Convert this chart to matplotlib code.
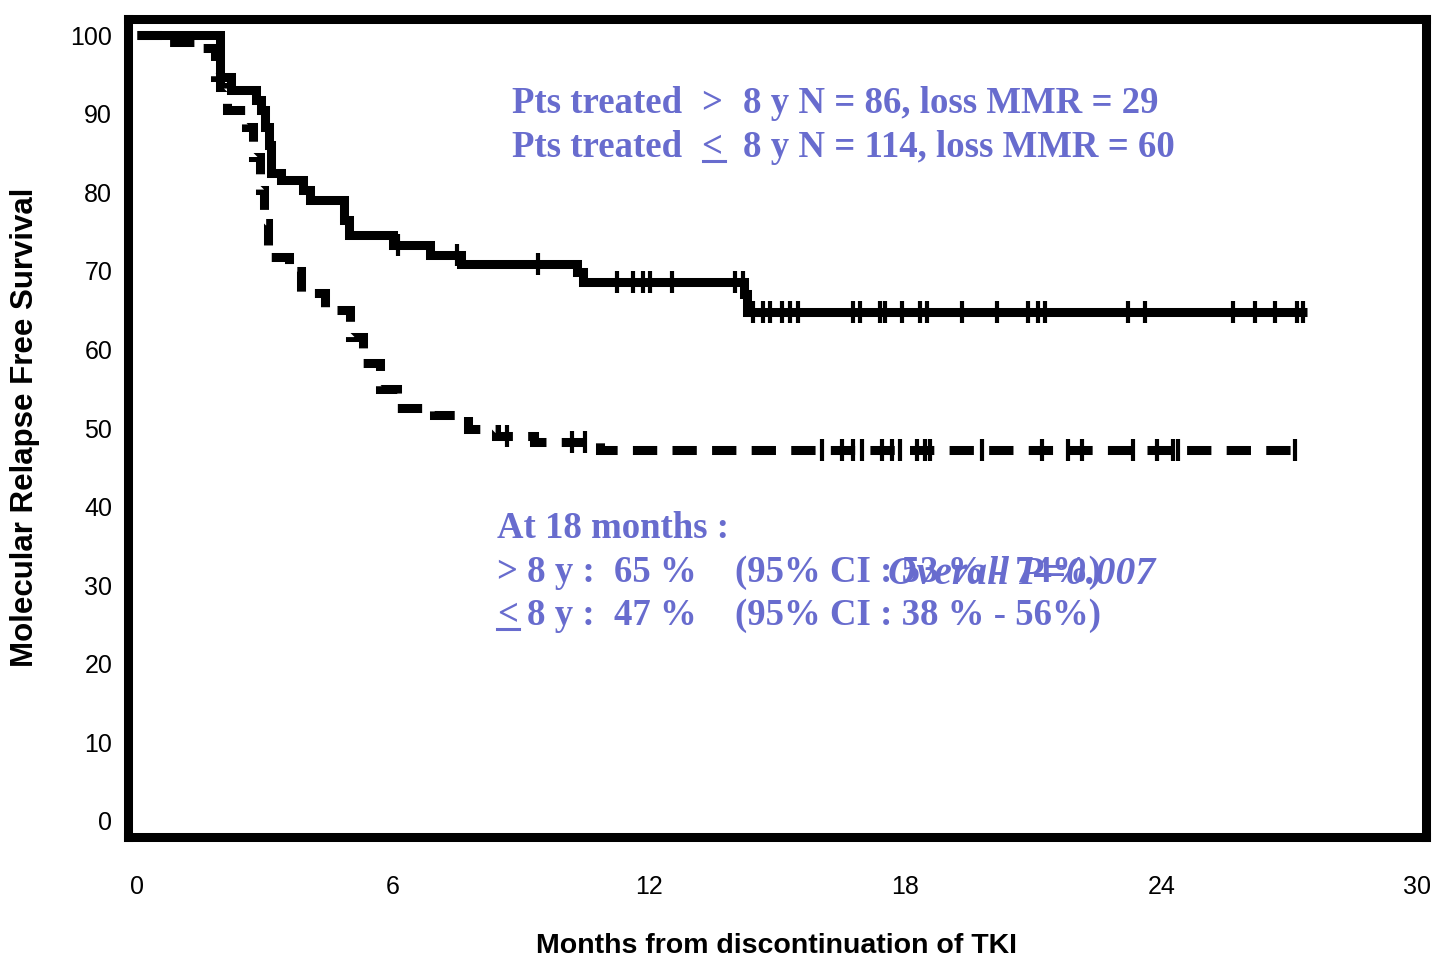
import matplotlib
matplotlib.use("Agg")
import matplotlib.pyplot as plt
from matplotlib.lines import Line2D

plt.rcParams['lines.scale_dashes'] = False

W, H = 1433, 961

# ---------------- data ----------------
# Pts treated > 8 y (solid): KM step times (months) and survival (%)
gt8_time = [0, 1.94, 2.20, 2.78, 2.90, 3.00, 3.10, 3.15, 3.38, 3.90, 4.05, 4.85, 4.97,
            6.00, 6.87, 7.60, 10.32, 10.45, 14.22, 14.30, 27.41]
gt8_surv = [100, 94.7, 93.0, 91.7, 90.5, 88.3, 86.0, 82.4, 81.6, 80.3, 79.0, 76.5, 74.6,
            73.3, 72.0, 70.9, 69.8, 68.6, 67.0, 64.8, 64.8]
gt8_censor = [6.12, 7.50, 9.40, 11.25, 11.62, 11.86, 12.02, 12.54, 14.01, 14.20,
              14.43, 14.67, 14.83, 15.11, 15.30, 15.49, 16.78, 16.94, 17.41, 17.53,
              17.92, 18.35, 18.51, 19.33, 20.15, 20.88, 21.11, 21.27, 23.22, 23.62,
              25.68, 26.19, 26.66, 27.17, 27.31]

# Pts treated <= 8 y (dashed)
le8_time = [0, 0.75, 1.45, 1.83, 1.95, 2.10, 2.55, 2.72, 2.88, 2.97, 3.08, 3.55, 3.85,
            4.40, 5.00, 5.30, 5.70, 6.10, 6.95, 7.75, 8.40, 9.30, 10.85, 27.13]
le8_surv = [100, 99.1, 98.3, 94.7, 93.4, 90.5, 88.3, 84.5, 80.3, 76.1, 71.8, 70.0, 67.2,
            65.0, 61.6, 58.3, 54.9, 52.5, 51.6, 49.9, 49.0, 48.2, 47.2, 47.2]
le8_censor = [8.67, 10.19, 10.50, 16.05, 16.52, 16.78, 16.99, 17.46, 17.69, 17.88,
              18.28, 18.46, 18.58, 19.80, 21.20, 21.81, 22.14, 23.34, 23.90, 24.27,
              24.39, 27.13]

x_ticks = [0, 6, 12, 18, 24, 30]
y_ticks = [0, 10, 20, 30, 40, 50, 60, 70, 80, 90, 100]
x_label = "Months from discontinuation of TKI"
y_label = "Molecular Relapse Free Survival"


def km_value(times, survs, t):
    v = survs[0]
    for ti, si in zip(times, survs):
        if ti <= t:
            v = si
    return v


# ---------------- figure ----------------
fig = plt.figure(figsize=(W / 100, H / 100), dpi=100)
ax = fig.add_axes([127.5 / W, 1 - 837 / H, (1426 - 127.5) / W, (837 - 18.5) / H])

ax.set_xlim(-0.2226, 30.20)
ax.set_ylim(-2.036, 102.1)

lw = 6.5
ax.plot(gt8_time, gt8_surv, drawstyle='steps-post', color='black', lw=lw,
        solid_joinstyle='miter', solid_capstyle='butt')
ax.plot(gt8_censor, [km_value(gt8_time, gt8_surv, t) for t in gt8_censor],
        ls='none', marker='|', ms=16, mew=3, color='black')

dl, = ax.plot(le8_time, le8_surv, drawstyle='steps-post', color='black', lw=lw,
              dash_capstyle='butt', dash_joinstyle='miter')
dl.set_dashes([17.5, 11])
ax.plot(le8_censor, [km_value(le8_time, le8_surv, t) for t in le8_censor],
        ls='none', marker='|', ms=16, mew=3, color='black')

for s in ax.spines.values():
    s.set_linewidth(6.5)
    s.set_color('black')

ax.set_xticks(x_ticks)
ax.set_yticks(y_ticks)
ax.tick_params(axis='x', direction='out', length=3.5, width=5.5, pad=24,
               labelsize=18, top=False)
ax.tick_params(axis='y', direction='out', length=2, width=5, pad=9,
               labelsize=18, right=False)
for lab in ax.get_xticklabels() + ax.get_yticklabels():
    lab.set_family('Liberation Sans')

ax.set_xlabel(x_label, fontsize=20.5, fontweight='bold', family='Liberation Sans', va='center')
ax.xaxis.set_label_coords(0.4998, (837 - 946) / 818.5)
ax.set_ylabel(y_label, fontsize=22.5, fontweight='bold', family='Liberation Sans', va='center')
ax.yaxis.set_label_coords((25 - 127.5) / 1298.5, 0.5)

# ---------------- annotations ----------------
col = '#686CCE'
serif = ['Liberation Serif', 'DejaVu Serif']
fs = 26.5


def ftext(px, py, s, **kw):
    kw.setdefault('fontsize', fs)
    kw.setdefault('fontweight', 'bold')
    kw.setdefault('family', serif)
    fig.text(px / W, 1 - py / H, s, color=col, ha='left', va='baseline', **kw)


def underline(x0, x1, py):
    fig.add_artist(Line2D([x0 / W, x1 / W], [1 - py / H, 1 - py / H],
                          transform=fig.transFigure, color=col, lw=2.2))


ftext(512, 113, "Pts treated")
ftext(701, 113, ">")
ftext(743, 113, "8 y N = 86, loss MMR = 29")
ftext(512, 157, "Pts treated")
ftext(701, 157, "<")
underline(703, 725, 161)
ftext(743, 157, "8 y N = 114, loss MMR = 60")

ftext(497, 538, "At 18 months :")
ftext(497, 582, "> 8 y :")
ftext(614, 582, "65 %")
ftext(735, 582, "(95% CI : 53 % - 74%)")
ftext(497, 625, "<")
underline(497, 519, 629)
ftext(527, 625, "8 y :")
ftext(614, 625, "47 %")
ftext(735, 625, "(95% CI : 38 % - 56%)")
ftext(888, 584, "Overall P=0.007", fontsize=28.5, fontweight='bold', style='italic')

fig.savefig('out.png', dpi=100)
